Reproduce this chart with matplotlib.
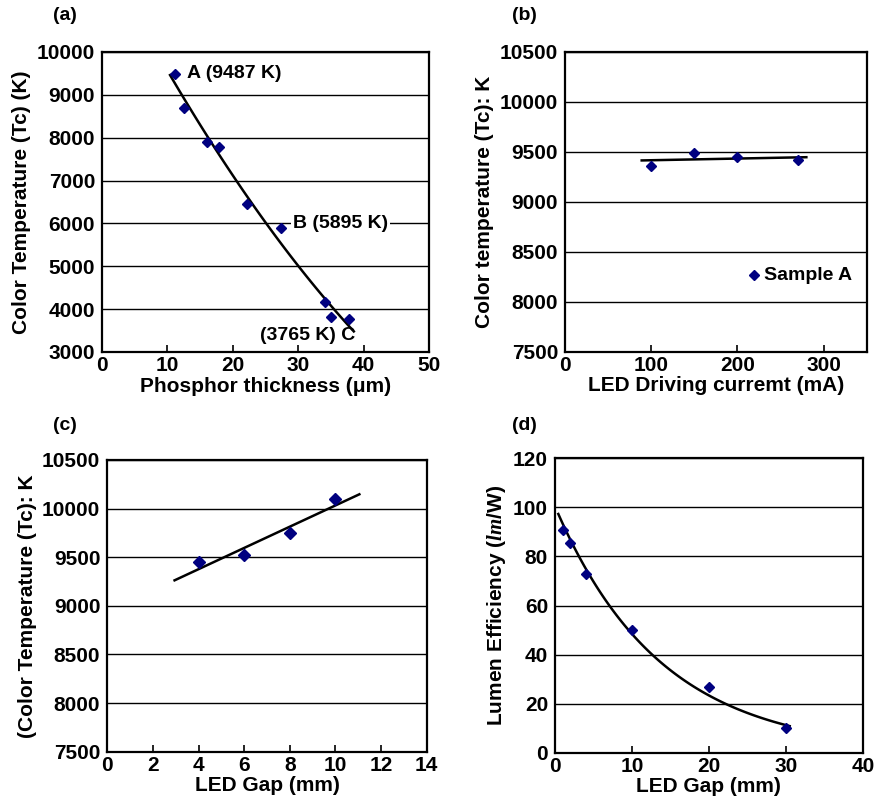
import numpy as np
import matplotlib
matplotlib.use("Agg")
import matplotlib.pyplot as plt

plt.rcParams['font.family'] = ['Liberation Sans', 'DejaVu Sans']
plt.rcParams['font.weight'] = 'bold'
plt.rcParams['mathtext.fontset'] = 'custom'
plt.rcParams['mathtext.it'] = 'Liberation Serif:italic'

# ---- data ----
a_thick = [11.2, 12.5, 16.0, 17.9, 22.1, 27.3, 34.1, 35.0, 37.8]
a_temp = [9487, 8693, 7908, 7776, 6446, 5895, 4165, 3816, 3765]
a_fit_range = [10.4, 38.5]

b_current = [100, 150, 200, 270]
b_temp = [9360, 9490, 9450, 9413]
b_fit_range = [89, 280]

c_gap = [4, 6, 8, 10]
c_temp = [9448, 9523, 9746, 10102]
c_fit_range = [2.95, 11.05]

d_gap = [1, 2, 4, 10, 20, 30]
d_eff = [90.8, 85.3, 72.7, 50.1, 26.9, 10.2]
d_fit_range = [0.43, 30.5]

def mk(size):
    return dict(marker='D', color='#000080', markersize=size, linestyle='none', zorder=4)

FS = 15

fig = plt.figure(figsize=(8.75, 8.08), dpi=100)

def style(ax, xlim, ylim, xt, yt):
    ax.set_xlim(*xlim)
    ax.set_ylim(*ylim)
    ax.set_xticks(xt)
    ax.set_yticks(yt)
    ax.tick_params(axis='both', direction='in', labelsize=FS, length=5, width=1.2, pad=3)
    ax.tick_params(axis='y', length=0, pad=5)
    for lab in ax.get_xticklabels() + ax.get_yticklabels():
        lab.set_fontweight('bold')
    for s in ax.spines.values():
        s.set_linewidth(1.6)
    ax.yaxis.grid(True, color='black', linewidth=1.0)
    ax.set_axisbelow(True)

# (a)
ax = fig.add_axes([0.1166, 0.5644, 0.3737, 0.3713])
style(ax, (0, 50), (3000, 10000), range(0, 51, 10), range(3000, 10001, 1000))
ax.plot(a_thick, a_temp, **mk(5))
p = np.polyfit(a_thick, a_temp, 2)
xx = np.linspace(a_fit_range[0], a_fit_range[1], 100)
ax.plot(xx, np.polyval(p, xx), color='black', linewidth=1.8, zorder=3)
ax.text(13.0, a_temp[0], 'A (9487 K)', fontsize=14, fontweight='bold', va='center', ha='left')
ax.text(29.2, 6000, 'B (5895 K)', fontsize=14, fontweight='bold', va='center', ha='left',
        bbox=dict(facecolor='white', edgecolor='none', pad=1.5), zorder=5)
ax.text(24.1, 3390, '(3765 K) C', fontsize=14, fontweight='bold', va='center', ha='left')
ax.set_xlabel('Phosphor thickness (μm)', fontsize=FS, fontweight='bold', labelpad=1)
ax.set_ylabel('Color Temperature (Tc) (K)', fontsize=FS, fontweight='bold', labelpad=4)
fig.text(53 / 875, 1 - 16 / 808, '(a)', fontsize=14, fontweight='bold', va='center')

# (b)
ax = fig.add_axes([0.6457, 0.5647, 0.3448, 0.3713])
style(ax, (0, 350), (7500, 10500), range(0, 301, 100), range(7500, 10501, 500))
ax.plot(b_current, b_temp, **mk(5.5))
p = np.polyfit(b_current, b_temp, 1)
xx = np.linspace(b_fit_range[0], b_fit_range[1], 10)
ax.plot(xx, np.polyval(p, xx), color='black', linewidth=1.8, zorder=3)
ax.plot([219], [8267], **mk(5))
ax.text(231, 8267, 'Sample A', fontsize=14, fontweight='bold', va='center', ha='left')
ax.set_xlabel('LED Driving curremt (mA)', fontsize=FS, fontweight='bold', labelpad=1)
ax.set_ylabel('Color temperature (Tc): K', fontsize=FS, fontweight='bold', labelpad=4)
fig.text(512 / 875, 1 - 16 / 808, '(b)', fontsize=14, fontweight='bold', va='center')

# (c)
ax = fig.add_axes([0.1226, 0.0697, 0.365, 0.361])
style(ax, (0, 14), (7500, 10500), range(0, 15, 2), range(7500, 10501, 500))
ax.plot(c_gap, c_temp, **mk(6.5))
p = np.polyfit(c_gap, c_temp, 1)
xx = np.linspace(c_fit_range[0], c_fit_range[1], 10)
ax.plot(xx, np.polyval(p, xx), color='black', linewidth=1.8, zorder=3)
ax.set_xlabel('LED Gap (mm)', fontsize=FS, fontweight='bold', labelpad=1)
ax.set_ylabel('(Color Temperature (Tc): K', fontsize=FS, fontweight='bold', labelpad=4)
fig.text(53 / 875, 1 - 426 / 808, '(c)', fontsize=14, fontweight='bold', va='center')

# (d)
ax = fig.add_axes([0.6343, 0.0684, 0.3517, 0.3644])
style(ax, (0, 40), (0, 120), range(0, 41, 10), range(0, 121, 20))
ax.plot(d_gap, d_eff, **mk(5))
k, c0 = np.polyfit(d_gap, np.log(d_eff), 1)
xx = np.linspace(d_fit_range[0], d_fit_range[1], 100)
ax.plot(xx, np.exp(c0 + k * xx), color='black', linewidth=1.8, zorder=3)
ax.set_xlabel('LED Gap (mm)', fontsize=FS, fontweight='bold', labelpad=1)
ax.set_ylabel(r'Lumen Efficiency ($\mathit{lm}$/W)', fontsize=FS, fontweight='bold', labelpad=4)
fig.text(512 / 875, 1 - 426 / 808, '(d)', fontsize=14, fontweight='bold', va='center')

fig.savefig('out.png', dpi=100, facecolor='white')
